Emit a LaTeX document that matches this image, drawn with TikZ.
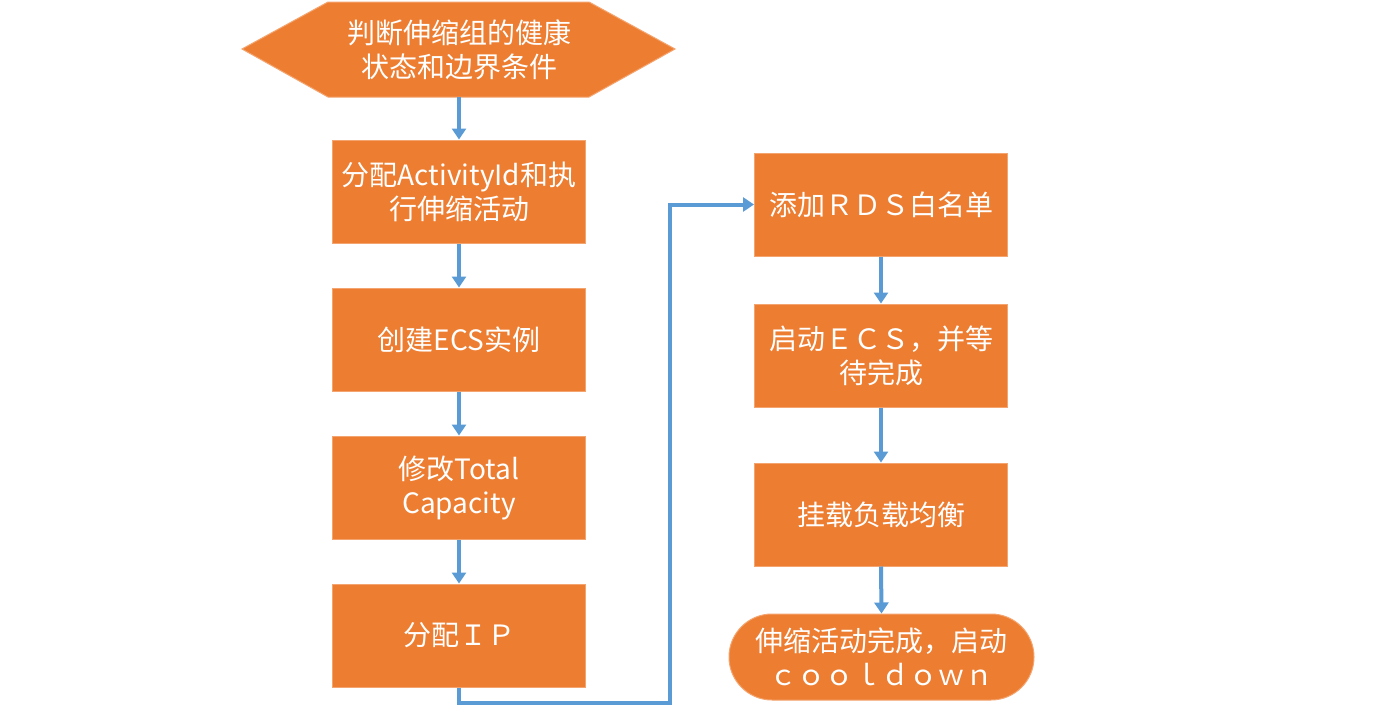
\documentclass[tikz,border=0pt]{standalone}
\usepackage{fontspec}
\setmainfont{Noto Sans CJK SC}
\usetikzlibrary{arrows.meta}
\definecolor{boxorange}{HTML}{ED7D31}
\definecolor{boxedge}{HTML}{F4A46E}
\definecolor{arrblue}{HTML}{5B9BD5}
\tikzset{
  txt/.style={text=white,align=center,font=\fontsize{28}{34}\selectfont},
  stepbox/.style={txt,rectangle,fill=boxorange,draw=boxedge,line width=1pt,minimum width=253pt,minimum height=103pt,inner sep=0pt},
  endbox/.style={txt,rectangle,rounded corners=43pt,fill=boxorange,draw=boxedge,line width=1pt,minimum width=305pt,minimum height=86pt,inner sep=0pt},
  arr/.style={draw=arrblue,line width=4pt,-{Triangle[width=14pt,length=11pt]}}
}
\begin{document}
\begin{tikzpicture}[x=1pt,y=-1pt]
\useasboundingbox (0,0) rectangle (1400,712);
\fill[white] (0,0) rectangle (1400,712);
% hexagon
\filldraw[fill=boxorange,draw=boxedge,line width=1pt] (242,49) -- (328,2) -- (589,2) -- (675,49) -- (589,97) -- (328,97) -- cycle;
\node[txt] (hex) at (459,50) {判断伸缩组的健康\\状态和边界条件};
\coordinate (hexb) at (459,97);
% left column
\node[stepbox] (b1) at (459,191.5) {分配ActivityId和执\\行伸缩活动};
\node[stepbox] (b2) at (459,339.5) {创建ECS实例};
\node[stepbox] (b3) at (459,487.5) {修改Total\\Capacity};
\node[stepbox] (b4) at (459,635.5) {分配ＩＰ};
% right column
\node[stepbox] (b5) at (881,204.5) {添加ＲＤＳ白名单};
\node[stepbox] (b6) at (881,355.5) {启动ＥＣＳ，并等\\待完成};
\node[stepbox] (b7) at (881,514.5) {挂载负载均衡};
\node[endbox] (b8) at (881.5,657) {伸缩活动完成，启动\\ｃｏｏｌｄｏｗｎ};
% connectors
\draw[arr] (hexb) -- (b1.north);
\draw[arr] (b1.south) -- (b2.north);
\draw[arr] (b2.south) -- (b3.north);
\draw[arr] (b3.south) -- (b4.north);
\coordinate (c1) at (670,703);
\draw[arr] (b4.south) |- (c1) |- (b5.west);
\draw[arr] (b5.south) -- (b6.north);
\draw[arr] (b6.south) -- (b7.north);
\draw[arr] (b7.south) -- (b8.north);
\end{tikzpicture}
\end{document}
